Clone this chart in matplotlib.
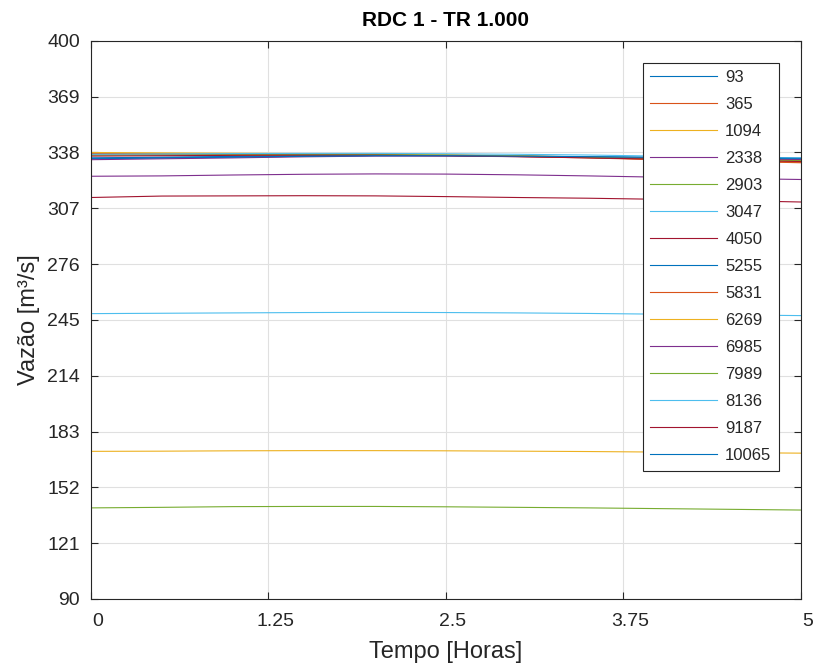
import matplotlib
matplotlib.use("Agg")
import matplotlib.pyplot as plt
import matplotlib.transforms as mtransforms

plt.rcParams['font.family'] = ['Liberation Sans', 'DejaVu Sans']

# time axis (hours)
tempo = [0, 0.5, 1.0, 1.5, 2.0, 2.5, 3.0, 3.5, 4.0, 4.5, 5.0]

labels = ['93', '365', '1094', '2338', '2903', '3047', '4050', '5255',
          '5831', '6269', '6985', '7989', '8136', '9187', '10065']

s93    = [335.0, 335.4, 335.8, 336.2, 336.5, 336.4, 336.0, 335.5, 335.0, 334.5, 334.0]
s365   = [337.5, 337.4, 337.3, 337.2, 337.0, 336.6, 336.0, 335.2, 334.2, 333.2, 332.3]
s1094  = [172.0, 172.1, 172.3, 172.4, 172.4, 172.3, 172.1, 171.9, 171.6, 171.3, 171.0]
s2338  = [324.8, 325.0, 325.5, 325.9, 326.1, 326.0, 325.6, 325.0, 324.3, 323.6, 323.0]
s2903  = [140.6, 140.9, 141.3, 141.4, 141.4, 141.2, 140.9, 140.6, 140.2, 139.8, 139.4]
s3047  = [248.5, 248.7, 248.9, 249.1, 249.2, 249.1, 248.9, 248.6, 248.2, 247.8, 247.4]
s4050  = [313.0, 313.8, 313.9, 314.0, 313.9, 313.5, 313.0, 312.6, 312.0, 311.3, 310.5]
s5255  = [334.5, 334.9, 335.4, 335.9, 336.3, 336.3, 336.0, 335.6, 335.2, 334.8, 334.5]
s5831  = [337.0, 337.0, 336.9, 336.9, 336.8, 336.4, 335.8, 335.0, 334.0, 333.2, 332.6]
s6269  = [338.0, 337.8, 337.6, 337.4, 337.2, 336.8, 336.2, 335.5, 334.6, 333.8, 333.0]
s6985  = [334.0, 334.5, 335.0, 335.6, 336.0, 336.0, 335.7, 335.3, 334.8, 334.4, 334.0]
s7989  = [336.5, 336.6, 336.7, 336.8, 336.8, 336.5, 336.0, 335.3, 334.6, 334.0, 333.5]
s8136  = [337.0, 337.2, 337.4, 337.5, 337.5, 337.3, 337.0, 336.6, 336.0, 335.5, 335.0]
s9187  = [336.0, 336.2, 336.4, 336.5, 336.5, 336.2, 335.7, 335.0, 334.3, 333.6, 333.0]
s10065 = [334.8, 335.1, 335.5, 335.9, 336.2, 336.2, 336.0, 335.7, 335.3, 335.0, 334.8]

series = [s93, s365, s1094, s2338, s2903, s3047, s4050, s5255,
          s5831, s6269, s6985, s7989, s8136, s9187, s10065]

yticks = [90, 121, 152, 183, 214, 245, 276, 307, 338, 369, 400]
xticks = [0, 1.25, 2.5, 3.75, 5]
xticklabels = ['0', '1.25', '2.5', '3.75', '5']

colors = [(0, 0.447, 0.741), (0.850, 0.325, 0.098), (0.929, 0.694, 0.125),
          (0.494, 0.184, 0.556), (0.466, 0.674, 0.188), (0.301, 0.745, 0.933),
          (0.635, 0.078, 0.184)]
dark = (0.15, 0.15, 0.15)

fig = plt.figure(figsize=(8.19, 6.70), dpi=100)
ax = fig.add_axes([0.111, 0.106, 0.867, 0.833])

for i, (lab, vals) in enumerate(zip(labels, series)):
    ax.plot(tempo, vals, color=colors[i % len(colors)], lw=0.8, label=lab)

ax.set_xlim(0, 5)
ax.set_ylim(90, 400)
ax.set_xticks(xticks)
ax.set_xticklabels(xticklabels)
ax.set_yticks(yticks)
ax.grid(True, color=(0.88, 0.88, 0.88), lw=0.8)
ax.set_axisbelow(True)
ax.tick_params(direction='in', top=True, right=True, labelsize=14,
               colors=dark, length=5, width=0.8)
ax.tick_params(axis='x', pad=10)
ax.tick_params(axis='y', pad=8)
for sp in ax.spines.values():
    sp.set_color(dark)
    sp.set_linewidth(0.8)

# tick labels sit slightly to the right in the reference
offset = mtransforms.ScaledTranslation(7 / 100, 0, fig.dpi_scale_trans)
for lbl in ax.get_xticklabels():
    lbl.set_transform(lbl.get_transform() + offset)

ax.set_xlabel('Tempo [Horas]', fontsize=17, color=dark, va='top')
ax.xaxis.set_label_coords(0.5, -0.076)
ax.set_ylabel('Vazão [m³/s]', fontsize=17, color=dark)
ax.yaxis.set_label_coords(-0.072, 0.5)
ax.set_title('RDC 1 - TR 1.000', fontsize=15, fontweight='bold', pad=11, color='black')

leg = ax.legend(loc='upper right', bbox_to_anchor=(0.969, 0.961), borderaxespad=0,
                fontsize=12, fancybox=False, framealpha=1, edgecolor=dark,
                handlelength=4.0, labelspacing=0.72, borderpad=0.45,
                handletextpad=0.5)
leg.get_frame().set_linewidth(0.8)
for t in leg.get_texts():
    t.set_color(dark)

fig.savefig('out.png', dpi=100)
